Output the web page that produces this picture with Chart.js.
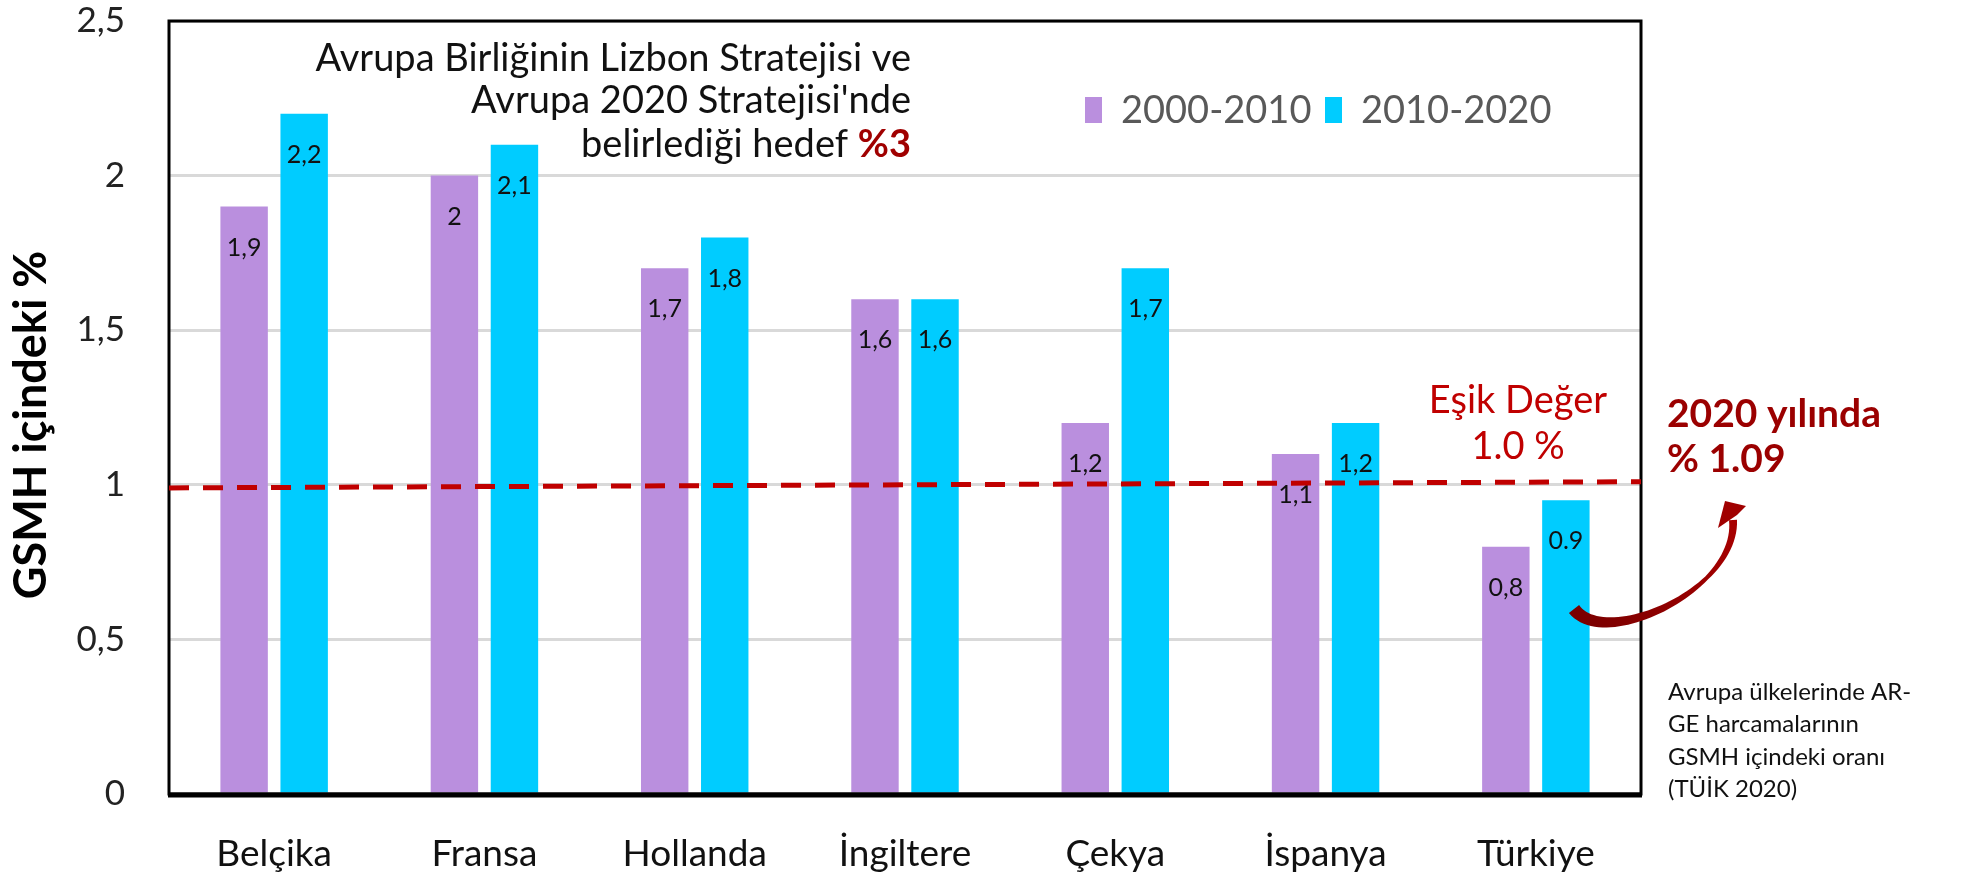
<!DOCTYPE html>
<html lang="tr">
<head>
<meta charset="utf-8">
<title>AR-GE harcamaları</title>
<script src="https://cdn.jsdelivr.net/npm/chart.js@4.4.1/dist/chart.umd.min.js"></script>
<style>
  html, body { margin: 0; padding: 0; background: #fff; }
  #kutu { width: 1964px; height: 879px; }
</style>
</head>
<body>
<div id="kutu"><canvas id="grafik" width="1964" height="879"></canvas></div>
<script>
const ulkeler = ['Belçika', 'Fransa', 'Hollanda', 'İngiltere', 'Çekya', 'İspanya', 'Türkiye'];
const donem1 = [1.9, 2.0, 1.7, 1.6, 1.2, 1.1, 0.8];
const donem2 = [2.2, 2.1, 1.8, 1.6, 1.7, 1.2, 0.95];
const etiket1 = ['1,9', '2', '1,7', '1,6', '1,2', '1,1', '0,8'];
const etiket2 = ['2,2', '2,1', '1,8', '1,6', '1,7', '1,2', '0.9'];
const seriAdlari = ['2000-2010', '2010-2020'];
const yEksenMax = 2.5;
const yEksenAdim = 0.5;
const esikBaslangic = 0.99;
const esikBitis = 1.01;

const renkMor = '#BA8FDE';
const renkMavi = '#00CCFF';
const yazi = 'Lato, "Open Sans", sans-serif';

const ekler = {
  id: 'ekler',
  afterDatasetsDraw(chart) {
    const { ctx, chartArea: a, scales } = chart;
    const y = scales.y;
    ctx.save();

    // veri etiketleri
    ctx.font = `25px ${yazi}`;
    ctx.fillStyle = '#111';
    ctx.textAlign = 'center';
    ctx.textBaseline = 'middle';
    [etiket1, etiket2].forEach((etiketler, i) => {
      chart.getDatasetMeta(i).data.forEach((bar, j) => {
        ctx.fillText(etiketler[j], bar.x, bar.y + 41);
      });
    });

    // çerçeve
    ctx.strokeStyle = '#000';
    ctx.lineWidth = 3;
    ctx.strokeRect(a.left, a.top, a.right - a.left, a.bottom - a.top);
    ctx.lineWidth = 5;
    ctx.beginPath();
    ctx.moveTo(a.left - 1, a.bottom + 1);
    ctx.lineTo(a.right + 1, a.bottom + 1);
    ctx.stroke();

    // eşik çizgisi
    ctx.strokeStyle = '#C00000';
    ctx.lineWidth = 5;
    ctx.setLineDash([20, 14]);
    ctx.beginPath();
    ctx.moveTo(a.left, y.getPixelForValue(esikBaslangic));
    ctx.lineTo(a.right, y.getPixelForValue(esikBitis));
    ctx.stroke();
    ctx.setLineDash([]);

    // y ekseni başlığı
    ctx.save();
    ctx.translate(31, 425);
    ctx.rotate(-Math.PI / 2);
    ctx.font = `bold 45px ${yazi}`;
    ctx.fillStyle = '#000';
    ctx.textAlign = 'center';
    ctx.fillText('GSMH içindeki %', 0, 0);
    ctx.restore();

    // lejant
    ctx.font = `38px ${yazi}`;
    ctx.textAlign = 'left';
    const lx = [a.left + 916, a.left + 1156];
    [renkMor, renkMavi].forEach((renk, i) => {
      ctx.fillStyle = renk;
      ctx.fillRect(lx[i], 97, 17, 26);
      ctx.fillStyle = '#595959';
      ctx.fillText(seriAdlari[i], lx[i] + 36, 111);
    });

    // üst açıklama
    ctx.font = `38px ${yazi}`;
    ctx.fillStyle = '#111';
    ctx.textAlign = 'right';
    const sag = a.left + 742;
    ctx.fillText('Avrupa Birliğinin Lizbon Stratejisi ve', sag, 59);
    ctx.fillText("Avrupa 2020 Stratejisi'nde", sag, 101);
    ctx.font = `bold 38px ${yazi}`;
    const yuzde = '%3';
    const wY = ctx.measureText(yuzde).width;
    ctx.fillStyle = '#A00000';
    ctx.fillText(yuzde, sag, 145);
    ctx.font = `38px ${yazi}`;
    ctx.fillStyle = '#111';
    ctx.fillText('belirlediği hedef ', sag - wY, 145);

    // eşik değer yazısı
    ctx.font = `38px ${yazi}`;
    ctx.fillStyle = '#C00000';
    ctx.textAlign = 'center';
    ctx.fillText('Eşik Değer', a.left + 1349, 401);
    ctx.fillText('1.0 %', a.left + 1349, 447);

    // 2020 yılında
    ctx.font = `bold 39px ${yazi}`;
    ctx.fillStyle = '#9B0000';
    ctx.textAlign = 'left';
    ctx.fillText('2020 yılında', a.right + 26, 414);
    ctx.fillText('% 1.09', a.right + 26, 459);

    // kaynak notu
    ctx.font = `24px ${yazi}`;
    ctx.fillStyle = '#111';
    const notlar = ['Avrupa ülkelerinde AR-', 'GE harcamalarının', 'GSMH içindeki oranı', '(TÜİK 2020)'];
    notlar.forEach((s, i) => ctx.fillText(s, a.right + 27, 692 + i * 32.5));

    // eğri ok
    const p0 = [a.right - 67, 609], c1 = [a.right - 36, 650], c2 = [a.right + 97, 590], p3 = [a.right + 92, 520];
    const nokta = (t) => {
      const u = 1 - t;
      return [0, 1].map(k => u * u * u * p0[k] + 3 * u * u * t * c1[k] + 3 * u * t * t * c2[k] + t * t * t * p3[k]);
    };
    const sol = [], sagK = [];
    const n = 50;
    for (let i = 0; i <= n; i++) {
      const t = i / n;
      const p = nokta(t);
      const q = nokta(Math.min(1, t + 0.01));
      const r = nokta(Math.max(0, t - 0.01));
      const dx = q[0] - r[0], dy = q[1] - r[1];
      const len = Math.hypot(dx, dy) || 1;
      const w = t < 0.7 ? 6.5 - 4.5 * (t / 0.7) : 2 + 2 * ((t - 0.7) / 0.3);
      sol.push([p[0] - dy / len * w, p[1] + dx / len * w]);
      sagK.push([p[0] + dy / len * w, p[1] - dx / len * w]);
    }
    const grad = ctx.createLinearGradient(p0[0], p0[1], p3[0], p3[1]);
    grad.addColorStop(0, '#7A0000');
    grad.addColorStop(1, '#A80000');
    ctx.fillStyle = grad;
    ctx.beginPath();
    ctx.moveTo(sol[0][0], sol[0][1]);
    sol.forEach(p => ctx.lineTo(p[0], p[1]));
    sagK.reverse().forEach(p => ctx.lineTo(p[0], p[1]));
    ctx.closePath();
    ctx.fill();
    ctx.beginPath();
    ctx.moveTo(p3[0] - 15, p3[1] + 8);
    ctx.lineTo(p3[0] - 8, p3[1] - 19);
    ctx.lineTo(p3[0] + 13, p3[1] - 14);
    ctx.lineTo(p3[0] + 4, p3[1] - 5);
    ctx.closePath();
    ctx.fillStyle = '#A00000';
    ctx.fill();

    ctx.restore();
  }
};

new Chart(document.querySelector('#grafik'), {
  type: 'bar',
  data: {
    labels: ulkeler,
    datasets: [
      { label: seriAdlari[0], data: donem1, backgroundColor: renkMor },
      { label: seriAdlari[1], data: donem2, backgroundColor: renkMavi }
    ]
  },
  options: {
    responsive: false,
    animation: false,
    layout: { padding: { left: 0, right: 323, top: 21, bottom: 0 } },
    datasets: {
      bar: { categoryPercentage: 0.571, barPercentage: 0.79 }
    },
    plugins: {
      legend: { display: false },
      tooltip: { enabled: false }
    },
    scales: {
      x: {
        grid: { display: false, drawTicks: false },
        border: { display: false },
        ticks: { color: '#111', padding: 38, font: { family: yazi, size: 37 } },
        afterFit: (scale) => { scale.height = 85; }
      },
      y: {
        min: 0,
        max: yEksenMax,
        grid: { color: '#D9D9D9', lineWidth: 3, drawTicks: false },
        border: { display: false },
        ticks: {
          stepSize: yEksenAdim,
          color: '#222',
          padding: 44,
          font: { family: yazi, size: 35 },
          callback: (v) => String(v).replace('.', ',')
        },
        afterFit: (scale) => {
          scale.width = 169;
          scale.paddingTop = 0;
          scale.paddingBottom = 0;
        }
      }
    }
  },
  plugins: [ekler]
});
</script>
</body>
</html>
